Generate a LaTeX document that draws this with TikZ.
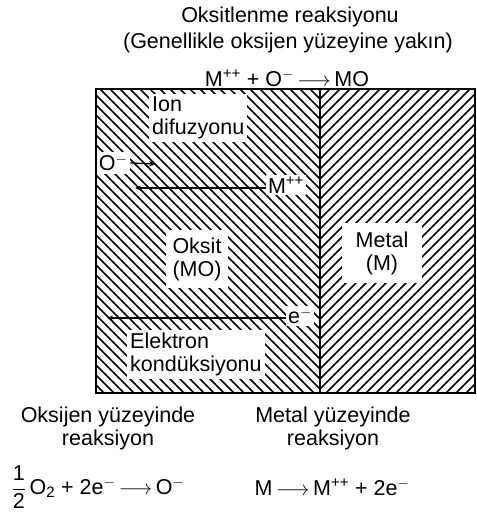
\documentclass[tikz,border=0pt]{standalone}
\usepackage{amsmath}
\usepackage{fontspec}
\setmainfont{Liberation Sans}
\usepackage{tikz}
\usetikzlibrary{arrows.meta,positioning}

\newcommand{\yld}{\,$\longrightarrow$\,}

\begin{document}
\begin{tikzpicture}[x=1pt, y=-1pt,
  every node/.style={font=\fontsize{21.5}{23}\selectfont, inner sep=1pt},
  hatch/.style={line width=1.5pt},
  cutout/.style={fill=white, inner sep=3pt},
  flow/.style={line width=2.8pt, -{Stealth[length=6pt, width=5pt]}}]

\useasboundingbox (0,0) rectangle (477,515);

% hatching of the two layers
\begin{scope}
  \clip (96,89) rectangle (320,393);
  \foreach \x in {-210,-200,...,320}
    \draw[hatch] (\x,89) -- (\x+304,393);
\end{scope}
\begin{scope}
  \clip (320,89) rectangle (475,393);
  \foreach \x in {320,330,...,790}
    \draw[hatch] (\x,89) -- (\x-304,393);
\end{scope}

% labels inside the layers
\node[cutout, align=left, anchor=north west] (iondif) at (149,94) {Ion\\difuzyonu};
\node[cutout] (oion) at (113,163) {O\textsuperscript{$-$}};
\node[cutout, inner sep=2pt] (mion) at (286,185) {M\textsuperscript{++}};
\node[cutout, align=center, inner sep=7pt] (oxide) at (197,259) {Oksit\\(MO)};
\node[cutout, align=center, inner xsep=14pt, inner ysep=8pt] (metal) at (382,253) {Metal\\(M)};
\node[cutout, inner sep=2pt] (elec) at (300,316) {e\textsuperscript{$-$}};
\node[cutout, align=left, anchor=north west] (econd) at (127,330) {Elektron\\kondüksiyonu};

\coordinate (mend) at (135,188);
\coordinate (eend) at (107,318);
\coordinate (oend) at (156,164);

% layer outline
\draw[line width=2.4pt] (96,89) rectangle (475,393);
\draw[line width=2pt] (320,89) -- (320,393);

\draw[flow] (mion.west |- mend) -- (mend);
\draw[flow] (elec.west |- eend) -- (eend);
\draw[line width=1.2pt, -{Stealth[length=7pt]}] (oion.east) -- (oend);

% reaction texts
\node (title) at (290,17) {Oksitlenme reaksiyonu};
\node (subtitle) at (288,43) {(Genellikle oksijen yüzeyine yakın)};
\node (topeq) at (287,78) {M\textsuperscript{++} + O\textsuperscript{$-$}\yld MO};

\node[align=center] (oxsurf) at (108,428) {Oksijen yüzeyinde\\reaksiyon};
\node (oxeq) at (98,487) {$\dfrac{\mbox{1}}{\mbox{2}}$\,O\textsubscript{2} + 2e\textsuperscript{$-$}\yld O\textsuperscript{$-$}};
\node[align=center] (mesurf) at (333,428) {Metal yüzeyinde\\reaksiyon};
\node (meeq) at (332,487) {M\yld M\textsuperscript{++} + 2e\textsuperscript{$-$}};

\end{tikzpicture}
\end{document}
